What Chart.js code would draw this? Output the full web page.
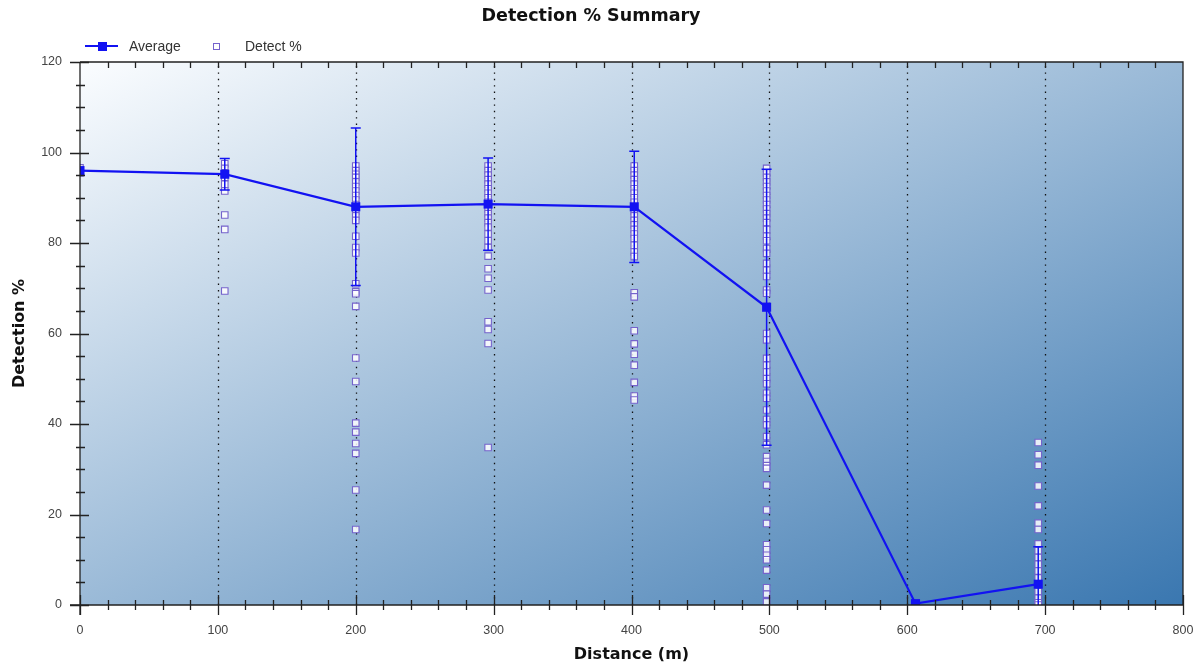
<!DOCTYPE html>
<html>
<head>
<meta charset="utf-8">
<title>Detection % Summary</title>
<script src="https://cdn.jsdelivr.net/npm/chart.js@4.4.1/dist/chart.umd.min.js"></script>
<style>
  html, body { margin: 0; padding: 0; background: #fff; }
  #wrap { width: 1202px; height: 667px; }
</style>
</head>
<body>
<div id="wrap"><canvas id="detectionChart" width="1202" height="667"></canvas></div>
<script>
// distances (m) where the detections were measured
var distances = [0, 105, 200, 296, 402, 498, 606, 695];
var averages = [96.0, 95.2, 88.0, 88.6, 88.0, 65.8, 0.3, 4.6];
var stdDevs = [0.4, 3.5, 17.4, 10.2, 12.3, 30.5, 0.3, 8.3];

// single detect % readings, one list per distance
var detect0 = [96.6, 96.0, 95.5];
var detect105 = [97.5, 96.5, 95.5, 94.5, 93.0, 91.5, 86.2, 83.0, 69.4];
var detect200 = [97.0, 96.0, 95.2, 94.5, 93.5, 92.5, 91.5, 90.5, 89.5, 88.5, 87.0, 86.0, 85.0,
                 81.5, 79.0, 77.8, 71.0, 69.2, 68.8, 66.0, 54.6, 49.4, 40.2, 38.2, 35.7, 33.5, 25.4, 16.7];
var detect296 = [97.0, 96.0, 95.0, 94.0, 93.0, 92.0, 91.0, 90.0, 89.0, 87.5, 86.5, 85.5, 84.5,
                 83.5, 82.0, 80.5, 79.0, 77.1, 74.3, 72.2, 69.6, 62.6, 60.9, 57.8, 34.8];
var detect402 = [97.0, 96.0, 95.0, 94.0, 93.0, 92.0, 91.0, 90.0, 89.0, 87.0, 86.0, 85.0, 84.0,
                 83.0, 82.0, 81.0, 79.5, 78.0, 77.0, 69.0, 68.1, 60.6, 57.7, 55.4, 53.0, 49.2, 46.2, 45.3];
var detect498 = [96.5, 95.5, 94.5, 93.5, 92.5, 91.5, 90.5, 89.5, 88.5, 87.5, 86.5, 85.5, 84.5,
                 83.0, 81.5, 80.5, 78.8, 77.7, 75.5, 74.0, 72.6, 69.6, 68.9, 66.0, 60.0, 58.6,
                 54.5, 53.0, 51.5, 50.0, 48.9, 46.8, 45.7, 43.1, 41.0, 39.8, 37.2, 35.4,
                 32.8, 31.7, 30.8, 30.2, 26.5, 21.0, 18.0, 13.3, 12.2, 11.0, 10.0, 7.7, 3.8, 2.4, 0.7];
var detect606 = [0.5, 0.2, 0.0];
var detect695 = [35.9, 33.2, 30.9, 26.3, 21.9, 18.1, 16.7, 13.5, 12.0, 10.5, 9.0, 7.5, 6.0,
                 4.5, 3.0, 1.5, 0.5, 0.0];
var detectGroups = [detect0, detect105, detect200, detect296, detect402, detect498, detect606, detect695];

var xTicks = [0, 100, 200, 300, 400, 500, 600, 700, 800];
var yTicks = [0, 20, 40, 60, 80, 100, 120];

var lineBlue = '#1212f2';
var squareEdge = '#7563cc';

var averagePoints = distances.map(function(d, i) { return {x: d, y: averages[i]}; });
var detectPoints = [];
detectGroups.forEach(function(group, i) {
    group.forEach(function(v) { detectPoints.push({x: distances[i], y: v}); });
});

// gradient background, dotted grid, error bars, frame ticks, title and legend
var chartDecor = {
    id: 'chartDecor',
    beforeDraw: function(chart) {
        var ctx = chart.ctx, a = chart.chartArea;
        ctx.save();
        ctx.translate(a.left, a.top);
        ctx.scale(a.right - a.left, a.bottom - a.top);
        var grad = ctx.createLinearGradient(0, 0, 1, 1);
        grad.addColorStop(0, '#fbfdff');
        grad.addColorStop(1, '#3a77b0');
        ctx.fillStyle = grad;
        ctx.fillRect(0, 0, 1, 1);
        ctx.restore();
    },
    beforeDatasetsDraw: function(chart) {
        var ctx = chart.ctx, a = chart.chartArea, x = chart.scales.x;
        ctx.save();
        ctx.strokeStyle = '#111';
        ctx.lineWidth = 1.3;
        ctx.setLineDash([1.4, 5]);
        xTicks.slice(1, -1).forEach(function(v) {
            var px = Math.round(x.getPixelForValue(v)) + 0.5;
            ctx.beginPath();
            ctx.moveTo(px, a.bottom);
            ctx.lineTo(px, a.top);
            ctx.stroke();
        });
        ctx.restore();
    },
    beforeDatasetDraw: function(chart, args) {
        if (args.index !== 0) return;
        var ctx = chart.ctx, a = chart.chartArea, x = chart.scales.x, y = chart.scales.y;
        ctx.save();
        ctx.beginPath();
        ctx.rect(a.left, a.top, a.right - a.left, a.bottom - a.top);
        ctx.clip();
        ctx.strokeStyle = lineBlue;
        ctx.lineWidth = 1.5;
        distances.forEach(function(d, i) {
            if (stdDevs[i] < 1) return;
            var px = x.getPixelForValue(d);
            var hi = y.getPixelForValue(averages[i] + stdDevs[i]);
            var lo = y.getPixelForValue(averages[i] - stdDevs[i]);
            ctx.beginPath();
            ctx.moveTo(px, hi); ctx.lineTo(px, lo);
            ctx.moveTo(px - 5, hi); ctx.lineTo(px + 5, hi);
            ctx.moveTo(px - 5, lo); ctx.lineTo(px + 5, lo);
            ctx.stroke();
        });
        ctx.restore();
    },
    afterDraw: function(chart) {
        var ctx = chart.ctx, a = chart.chartArea, x = chart.scales.x, y = chart.scales.y;
        ctx.save();
        ctx.strokeStyle = '#222';
        ctx.lineWidth = 1.3;
        // frame
        ctx.beginPath();
        ctx.moveTo(a.left, a.top); ctx.lineTo(a.right, a.top); ctx.lineTo(a.right, a.bottom);
        ctx.moveTo(a.left, a.top); ctx.lineTo(a.left, a.bottom + 10);
        ctx.moveTo(a.left - 10, a.bottom); ctx.lineTo(a.right, a.bottom);
        ctx.stroke();
        // x ticks, every 20 m
        ctx.beginPath();
        for (var v = 0; v <= 800; v += 20) {
            var px = Math.round(x.getPixelForValue(v)) + 0.5;
            var major = v % 100 === 0;
            ctx.moveTo(px, a.bottom - (major ? 10 : 5));
            ctx.lineTo(px, a.bottom + (major ? 10 : 5));
            if (v > 0 && v < 800) { ctx.moveTo(px, a.top); ctx.lineTo(px, a.top + 6); }
        }
        // y ticks, every 5 %
        for (var w = 0; w <= 120; w += 5) {
            var py = Math.round(y.getPixelForValue(w)) + 0.5;
            var big = w % 20 === 0;
            ctx.moveTo(a.left - (big ? 10 : 4), py);
            ctx.lineTo(a.left + (big ? 9 : 5), py);
        }
        ctx.stroke();

        // title
        ctx.fillStyle = '#111';
        ctx.font = 'bold 17.5px "DejaVu Sans"';
        ctx.textAlign = 'center';
        ctx.textBaseline = 'middle';
        ctx.fillText('Detection % Summary', 591, 16);

        // legend
        ctx.strokeStyle = lineBlue;
        ctx.lineWidth = 2.2;
        ctx.beginPath(); ctx.moveTo(85, 46); ctx.lineTo(118, 46); ctx.stroke();
        ctx.fillStyle = lineBlue;
        ctx.fillRect(98, 42, 9, 9);
        ctx.fillStyle = 'rgba(255,255,255,0.9)';
        ctx.strokeStyle = squareEdge;
        ctx.lineWidth = 1;
        ctx.fillRect(213.5, 43.5, 6, 6);
        ctx.strokeRect(213.5, 43.5, 6, 6);
        ctx.fillStyle = '#333';
        ctx.font = '14px "Liberation Sans"';
        ctx.textAlign = 'left';
        ctx.fillText(chart.data.datasets[0].label, 129, 47);
        ctx.fillText(chart.data.datasets[1].label, 245, 47);
        ctx.restore();
    }
};

var ctxDetect = document.getElementById('detectionChart').getContext('2d');
var detectionChart = new Chart(ctxDetect, {
    type: 'scatter',
    data: {
        datasets: [{
            label: 'Average',
            data: averagePoints,
            showLine: true,
            borderColor: lineBlue,
            borderWidth: 2.2,
            backgroundColor: lineBlue,
            pointStyle: 'rect',
            pointRadius: 6.4,
            pointBorderWidth: 0,
            clip: 0,
            order: 0
        }, {
            label: 'Detect %',
            data: detectPoints,
            showLine: false,
            pointStyle: 'rect',
            pointRadius: 4.6,
            pointBorderWidth: 1.1,
            borderColor: squareEdge,
            backgroundColor: 'rgba(255,255,255,0.85)',
            clip: 0,
            order: 1
        }]
    },
    options: {
        responsive: false,
        animation: false,
        devicePixelRatio: 1,
        layout: { padding: { top: 62, right: 19, left: 0, bottom: 0 } },
        plugins: {
            legend: { display: false },
            title: { display: false },
            tooltip: { enabled: false }
        },
        scales: {
            x: {
                type: 'linear',
                min: 0,
                max: 800,
                afterBuildTicks: function(scale) {
                    scale.ticks = xTicks.map(function(v) { return {value: v}; });
                },
                afterFit: function(scale) {
                    scale.height = 62;
                    scale.paddingLeft = 0;
                    scale.paddingRight = 0;
                },
                grid: { display: false, drawTicks: false },
                border: { display: false },
                ticks: {
                    color: '#444',
                    padding: 18,
                    maxRotation: 0,
                    font: { family: '"Liberation Sans"', size: 12.5 }
                },
                title: {
                    display: true,
                    text: 'Distance (m)',
                    color: '#111',
                    font: { family: '"DejaVu Sans"', size: 16, weight: 'bold' },
                    padding: { top: 0, bottom: 3 }
                }
            },
            y: {
                min: 0,
                max: 120,
                afterBuildTicks: function(scale) {
                    scale.ticks = yTicks.map(function(v) { return {value: v}; });
                },
                afterFit: function(scale) {
                    scale.width = 80;
                    scale.paddingTop = 0;
                    scale.paddingBottom = 0;
                },
                grid: { display: false, drawTicks: false },
                border: { display: false },
                ticks: {
                    color: '#444',
                    padding: 18,
                    font: { family: '"Liberation Sans"', size: 12.5 }
                },
                title: {
                    display: true,
                    text: 'Detection %',
                    color: '#111',
                    font: { family: '"DejaVu Sans"', size: 16, weight: 'bold' },
                    padding: { top: 10, bottom: 0 }
                }
            }
        }
    },
    plugins: [chartDecor]
});
</script>
</body>
</html>
